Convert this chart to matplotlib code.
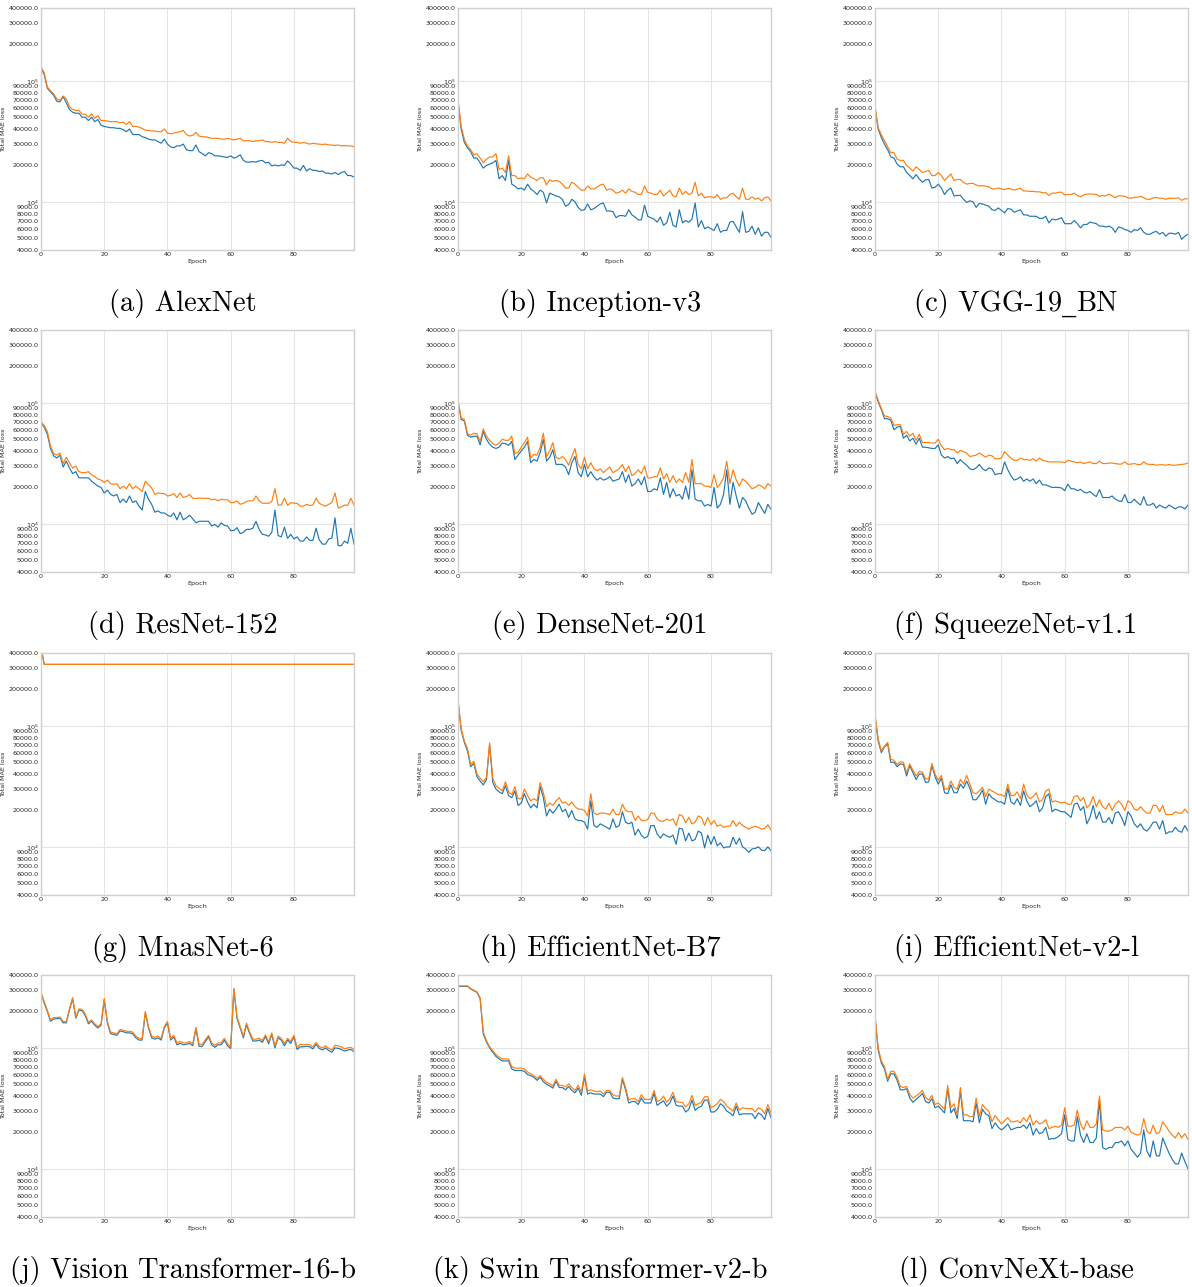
import numpy as np
import matplotlib
matplotlib.use("Agg")
import matplotlib.pyplot as plt
from matplotlib.ticker import LogLocator, FormatStrFormatter, LogFormatterSciNotation, FixedLocator

# ---------------- data (loss values in thousands) ----------------
epochs = list(range(100))

captions = ["(a) AlexNet", "(b) Inception-v3", "(c) VGG-19_BN",
            "(d) ResNet-152", "(e) DenseNet-201", "(f) SqueezeNet-v1.1",
            "(g) MnasNet-6", "(h) EfficientNet-B7", "(i) EfficientNet-v2-l",
            "(j) Vision Transformer-16-b", "(k) Swin Transformer-v2-b", "(l) ConvNeXt-base"]

alexnet_train = [128,113,87,81,76,68,67,74,66,58,
                 55,54,54,50,50,47,50,46,48,43,
                 42,41.5,41,41,40.5,40.5,39.5,38,40,36,
                 36,36,34.5,34,33,32.5,32.5,31.5,30.5,33,
                 30,28.5,28,29,29,30,27,26.5,26.5,29.5,
                 26,25,24,25.5,25,24,24,23.8,23.5,23.3,
                 24,23,23.5,24.5,22,21.3,21.3,21.5,21.3,21.8,
                 22,21,21.2,19.8,20.2,19.8,20.2,20,21.8,20.5,
                 19,19,18.2,20,18,18.8,18.2,18.2,17.8,18,
                 17.3,17.2,17,17.5,16.8,17.5,17.8,16.5,16.5,16]
alexnet_val = [130,117,89,83,78,71,69,75,71,61,
               58,57,57,53,53,50,53.5,49,51.5,47,
               47,46.5,46,46,46,45,45.5,43.5,46,42,
               42,41.5,40.5,39,39,38.5,38.5,38,38,40,
               37,36.5,37,37.5,38,39,36,35,35.5,37.5,
               35,34.5,34.5,34,33.5,33.5,33.5,33,33,33.5,
               33,32.5,33,33.5,32,32,32,31.5,32,32,
               32.5,31.5,31.5,31,31.5,31,31,30.5,33.5,31.5,
               31,31,30.5,31,30.5,30,30.5,30.2,30,29.8,
               30,29.5,29.5,29.2,29.5,29,29.2,29,29,28.5]

inception_train = [68,40,31,28,26,23,23,21,19,20,
                   20.5,21,22,15.5,16.5,15,22,14,13.5,12.8,
                   13,12.5,14,12.8,12.2,11.5,12.5,12,9.8,11.8,
                   11.5,11.2,11,10.5,9.2,9.5,10.5,10,9,8.5,
                   8.6,9.6,8.6,8.8,9.2,9.6,9.8,8.4,8.4,8.3,
                   7.4,7.7,7.7,7.6,8.6,7.8,7.5,7.1,7.1,9.4,
                   7.6,7.4,7.2,6.8,7.5,6.4,6.7,8.2,6.4,6.2,
                   8.6,6.7,7,6.8,7.2,9.8,6.2,7,6,6.2,
                   6,5.8,6.6,5.6,5.8,5.8,6.8,6.9,6.2,5.6,
                   8.3,5.6,5.7,6.3,5.4,6.1,5.2,5.6,5.6,5.1]
inception_val = [70,42,33,29,27,24.5,25,23,21,22.5,
                 23.5,23.5,25,18.5,19,17.5,24,16.5,16.5,15.5,
                 15.8,15.5,17,16,15.5,15,15.8,15.8,13.8,15.2,
                 14.8,15,14.8,14,13,13,14.5,14,13.2,12.5,
                 12.5,13.5,12.8,12.8,13.2,13.8,14,12.5,12.8,12.5,
                 11.8,12,12.5,11.8,12.8,12.2,12,11.5,11.5,13.5,
                 12,11.8,11.5,11.5,12.5,11.2,11.8,12.5,11.2,11,
                 13,11.5,12.2,11.5,11.8,14.5,11.2,11.8,10.8,11,
                 11,10.8,11.5,10.5,10.8,10.8,11.5,11.8,11,10.5,
                 13,10.5,10.5,11,10.5,10.8,10.2,10.8,11,10.2]

vgg_train = [60,40,34,30,27,23.5,23,20.5,19.5,19.5,
             17.5,16.5,15.5,16.8,15.5,14.5,15.2,15.3,13,13.2,
             14,13,11.5,12.5,13,11.2,11.3,11.3,10.5,9.9,
             10.2,10,9,9.7,9.6,9.4,9.2,8.6,8.5,8.9,
             8.5,8.1,8.8,8.7,8.2,8.4,8.6,7.8,7.8,7.6,
             7.6,7.6,7.3,7.3,7.6,6.7,7.2,7.1,7.2,7.4,
             6.6,6.6,6.6,7,6.6,6.1,6.5,6.5,6.8,6.7,
             6.6,6.3,6.3,6.2,6.3,6.1,5.6,6.2,6.1,5.9,
             5.8,5.6,5.9,5.8,6.1,5.6,5.4,5.4,5.6,5.7,
             5.4,5.6,5.2,5.5,5.5,5.4,5.6,4.9,5.2,5.4]
vgg_val = [62,41,36,32,28.5,25.5,25.5,22.5,22,22,
           20,19,18,19.5,18.5,17.5,17.8,18.2,16.5,16.5,
           17.5,16.5,15,16,17,15,15.3,15.3,14.5,14,
           14.2,14.2,13.8,13.5,13.6,13.5,13.3,12.8,12.8,13,
           12.8,12.6,12.9,12.8,12.5,12.7,13,12.3,12.3,12.2,
           12.2,12.1,12.1,11.9,11.9,11.3,11.8,11.8,12,12,
           11.4,11.5,11.5,11.8,11.3,11,11.4,11.6,11.6,11.6,
           11.5,11.1,11.3,11.2,11.6,11.2,10.8,11.2,11.2,11.1,
           10.8,10.7,10.9,10.9,11.1,10.8,10.5,10.5,10.8,10.9,
           10.7,10.7,10.5,10.7,10.7,10.7,10.8,10.3,10.6,10.6]

resnet_train = [68,63,55,42,36.5,35,37,29.5,33,29,
                26,27,24,24,24,24,22.5,21.5,20.5,20,
                18,19,17.5,17,17.5,15,16,15,17,15,
                15.5,14,13,18.5,16,14.5,12.5,12.8,12.3,12.3,
                11.8,11.5,12.3,10.8,12.5,10.8,11.2,11.8,11,10.2,
                10.5,10.5,10.5,10.5,9.6,9.9,9.4,10.2,9.7,9.6,
                8.8,8.8,9.3,8.3,8.5,9,9,9.2,10.5,9,
                8.2,8.1,7.9,8.5,13,8,7.8,9.4,7.6,8.2,
                7.5,7.8,7.2,7.2,7.8,7.3,7.3,9.2,7.4,6.8,
                6.8,7.5,7.6,11.2,6.6,6.6,7.2,6.9,9.2,6.8]
resnet_val = [70,65,58,44,38,37,38.5,31.5,35.5,32,
              29,30,27,26.5,26.5,27,25.5,24.5,23.5,23,
              22,23,21.5,21.2,21.5,19.5,20.5,19.5,21.5,19.5,
              20.5,19.5,18.5,22.5,21,19.8,17.5,18,17.8,17.8,
              17,17.2,17.8,16.5,18,16.5,16.8,17.5,16.3,16.2,
              16.3,16.3,16.2,16.3,15.8,16,15.5,16,15.8,15.8,
              15,15,15.5,14.5,14.8,15.3,15.5,15.5,17,15.5,
              14.8,14.8,14.8,15.3,19.5,14.3,14.3,16.3,14.2,15,
              14.8,14.8,14,14,14.5,14.2,14.3,16.3,14.8,14.3,
              14,14.5,15,18,13.5,13.8,14.3,14.2,16.3,14.3]

densenet_train = [102,73,71,54,52,53,53,45,58,50,
                  45.5,43,42,43,46.5,46,44.5,48,34,37,
                  40,43,48,32,34,33,39,50,33,35.5,
                  41,31,31,31,29.5,25.5,32,36,26.5,24.5,
                  31,24.5,27,24.5,23,24,23,23.5,24.5,22.5,
                  23,23.5,27,22,25.5,20.5,21.5,23.5,21,24.5,
                  18.5,18.5,19.5,19,24,17.5,22,16.5,19.5,17,
                  17.5,16,20.5,16,28,16,15.5,15.5,14,14.5,
                  14,20,13.5,14.5,17.5,28,14.5,22,17,13.5,
                  16.5,15.5,13.5,12,12.5,15,13.5,12.2,14.5,13.2]
densenet_val = [105,75,73,56,54,56,55.5,48,61,53,
                49,46,44.5,46.5,50,49,49,53,38,39,
                43,47,52,35,37.5,37,43,56,36,40,
                47,35.5,34.5,36,34,30.5,36,42,31,28.5,
                35.5,28.5,32,28.5,27.5,28.5,26.5,28,29.5,26.5,
                27.5,28.5,31,27,30,25,26,28,26,30,
                24,24,24.5,24.5,29,23.5,26,22,25,22,
                23.5,22,26.5,22,34,21.5,21.5,21.5,20.5,20.5,
                20,25.5,20,21.5,24,33,21.5,28,23,20.5,
                23.5,22.5,21,19.5,20,21,20.5,19.5,21.5,20.5]

squeezenet_train = [122,102,88,74,74,72,60,63,64,51,
                    54,48.5,51,45.5,51,43,43,42.5,42,42,
                    45,37,35,36,34.5,35,31.5,34,32,30.5,
                    28.5,28,29,31,28.5,27.5,29,28.5,25.5,26,
                    26,32.5,28,25,23,23.5,24.5,22.5,23.5,22.5,
                    23.5,21.5,23,21,21,20.5,20,20,20,19.8,
                    18.8,21.3,19.5,19.5,18.8,19.3,18.3,18,18.5,17.5,
                    16.8,19.2,16.5,16.5,16.5,17,16,15.5,15.3,17.5,
                    15,15,16,15,14.3,16.8,14.3,14.3,14.8,13.5,
                    14.3,13.8,13.5,14.3,13.8,13.3,13.8,13.8,13.3,14.3]
squeezenet_val = [125,105,90,78,77,75,65,66,66,55,
                  58,53,56,49,55,47,47,47,46.5,46.5,
                  50,44,41,42,41,41,38.5,40.5,39.5,38.5,
                  36,36.5,37,38.5,37,35.5,37,36.5,34.5,34.5,
                  35,39.5,37,35,33.5,33.5,35,34,34,33.5,
                  34.5,33,35,33.5,33,32.5,32.5,32.5,32.5,32.5,
                  32,33.5,33,32.5,32,32.5,31.5,32,32.5,31.5,
                  31.5,33,31.5,31.5,31.8,31.8,31.5,31.2,31.2,32.5,
                  31,31.2,31.5,31,30.8,32.5,31.2,31,31,30.5,
                  30.8,30.8,30.5,31,30.5,30.5,30.8,31,31.2,31.8]

mnasnet_train = [450,322,322,322,322,322,322,322,322,322,
                 322,322,322,322,322,322,322,322,322,322,
                 322,322,322,322,322,322,322,322,322,322,
                 322,322,322,322,322,322,322,322,322,322,
                 322,322,322,322,322,322,322,322,322,322,
                 322,322,322,322,322,322,322,322,322,322,
                 322,322,322,322,322,322,322,322,322,322,
                 322,322,322,322,322,322,322,322,322,322,
                 322,322,322,322,322,322,322,322,322,322,
                 322,322,322,322,322,322,322,322,322,322]
mnasnet_val = [450,322,322,322,322,322,322,322,322,322,
               322,322,322,322,322,322,322,322,322,322,
               322,322,322,322,322,322,322,322,322,322,
               322,322,322,322,322,322,322,322,322,322,
               322,322,322,322,322,322,322,322,322,322,
               322,322,322,322,322,322,322,322,322,322,
               322,322,322,322,322,322,322,322,322,322,
               322,322,322,322,322,322,322,322,322,322,
               322,322,322,322,322,322,322,322,322,322,
               322,322,322,322,322,322,322,322,322,322]

effb7_train = [160,92,73,62,46,49,38,35,32.5,36,
               70,34,30,28.5,27.5,32,26.5,25.5,29,22,
               23,27.5,23.5,21,22.5,21,31.5,25.5,18,20.5,
               19,20.5,22.5,19.5,20.5,17.5,20,17,16.5,16.5,
               16,14,24,15,14.5,15.5,15,14.5,14,17,
               14.5,15,19.5,16,15.5,16,12.5,14,12.5,11.8,
               12.2,15,15,12.8,11.8,12.8,12.3,12,12.5,10.5,
               14.3,14,11.2,13,11.2,11.5,13.5,13,9.8,12.5,
               10.5,12.2,10.2,10.8,9.8,10,10,12,10.5,11.8,
               10,9.6,9,9.6,9.7,10,9.4,9.3,10,9.3]
effb7_val = [165,95,75,65,48,51,40,37,34.5,37.5,
             72,37,32,30.5,29,34.5,28.5,27,31.5,25,
             25,30,26.5,24,25,24,34,28,21.5,23,
             22,24,25.5,23,23.5,22,23.5,21.5,20.5,20.5,
             20,18,27.5,19,18.5,19,19,18.8,18.5,20.5,
             18.5,18.5,22.5,20,19.5,19.5,16.5,18,16.5,16.5,
             16.8,19,19,17,16.3,16.3,17,16.5,17,15,
             18.5,18,15.8,17.5,15.5,16,18,17.5,15,17.5,
             15.3,16.5,14.8,15.2,14.5,14.8,14.8,16.5,14.8,16,
             15,14.5,14,14.5,14.8,14.5,14,14.2,15.2,13.8]

effv2_train = [120,75,60,67,71,50,50,46,48.5,48,
               38.5,47,41,36,40,40,34,34.5,47,38,
               33,37,28,27.5,32.5,28,28,33,30.5,35,
               30.5,24.5,24.5,26.5,29.5,22.5,27.5,25.5,24.5,23.5,
               23.5,22.5,30.5,23.5,22.5,25,22,29,24,21.5,
               22.5,24,19.5,21,26,27.5,19.5,20.5,20,19.5,
               19.5,18.5,17.5,22.5,23,20,21.5,15.5,17.5,22,
               17,19.5,16,16,17.5,15.5,19,19.5,17.5,15,
               19.5,18,15.5,14.5,15.5,14,13.5,14.5,16,16,
               14,16.5,12.8,13.3,13.3,14.5,13.5,13.2,15,13.5]
effv2_val = [125,78,62,68,73,53,52,48,50.5,50,
             41,48.5,43,38.5,42,41.5,36.5,36.5,49,40,
             35.5,39,30,30,35,31,30,36,33,39,
             33,28,27.5,29,31,26,30,29,28,27,
             27,26,33,26.5,26.5,28.5,25,33,27,25,
             26,28,23.5,24.5,29,30,23.5,24,23.5,23,
             23.5,22.5,22.5,26,26.5,24,25.5,21,22.5,26,
             21.5,24.5,21.5,20.5,23,20,22.5,24,22.5,20,
             24,23,20.5,20,21.5,20,19,19,22,22,
             19.5,22,18.5,18.5,18.5,19.5,19,19,20.5,19]

vit_train = [285,235,200,166,173,174,176,161,161,205,
             255,176,205,203,185,158,166,154,146,154,
             250,160,131,129,127,138,136,133,133,131,
             121,116,116,195,146,121,118,121,116,146,
             161,116,123,106,109,106,107,109,104,144,
             103,103,113,123,106,101,106,106,116,104,
             99,305,175,146,121,155,131,114,114,116,
             111,124,108,129,100,121,116,104,116,109,
             123,97,102,102,103,102,98,107,99,96,
             100,95,92,100,99,97,94,96,97,93]
vit_val = [290,240,205,170,178,178,180,165,165,210,
           260,180,210,208,190,163,170,158,150,158,
           255,165,135,133,130,142,140,137,137,135,
           125,120,120,200,150,125,122,125,120,150,
           165,120,127,110,113,110,110,113,108,148,
           107,107,117,127,110,105,110,110,120,108,
           102,310,180,150,125,160,135,118,118,120,
           115,128,112,133,104,125,120,108,120,113,
           127,101,107,106,107,106,102,111,103,100,
           104,99,96,105,104,102,98,100,101,97]

swin_train = [322,322,322,322,307,297,287,255,130,112,
              100,92,85,81,78,78,78,67,65,65,
              65,64,60,59,57,54,57,52.5,50,48.5,
              46.5,53,47,47,45,48,44.5,42.5,46.5,40.5,
              58,41.5,42.5,41.5,41.5,41.5,39.5,43,43,38.5,
              38,38,55,45,35,36,36,34,38.5,35,
              35,35,42,33.5,35,36.5,33,35,40,33.5,
              33,33,29.5,31,37,30.5,32,33,37,37,
              29.5,29.5,31,34.5,33,30,29,27.5,33,28,
              28.5,28.5,28.5,28.5,26,29,28,25.5,31.5,26.5]
swin_val = [325,325,325,325,310,300,290,260,135,115,
            102,95,88,84,81,81,81,70,68,68,
            68,67,63,61,59,56,59,55,52,50.5,
            48.5,55,49,49,47.5,50.5,47,44.5,49,43,
            61,44,45,44,43.5,44,41.5,44.5,44.5,41,
            40,40,57,47,37,38,38,36,41,37.5,
            37.5,37.5,44.5,36,37,40,35.5,38,43,36,
            35.5,35.5,32.5,34.5,40.5,33.5,34.5,35.5,39.5,39.5,
            32,33,34.5,37.5,36,33,31.5,30,35,30.5,
            32,31.5,31.5,31.5,29.5,32,31,28.5,34,29]

convnext_train = [180,96,75,67,53,61,61,54,45,45,
                  46,38.5,35.5,37.5,39.5,42,36,35,38,32,
                  33,31,29,46,29,31.5,26,44,25,25,
                  25,24.5,35,24,31,28.5,27.5,21.5,24,22,
                  21,22,23.5,21,21.5,22,22,23,21.5,24,
                  19,21.5,19.5,20,22,17.5,17.8,17.8,18.5,19.5,
                  28,17.5,17,17,27,19,16.5,19.5,16.5,16.5,
                  18,37,15,14.5,15,15,16.5,16.5,17,15.5,
                  17,14.5,13.5,12.5,13.5,21,14,12.5,17,12.8,
                  12.8,18,15.5,13.5,12,11,11,13.5,11.5,10]
convnext_val = [185,100,78,70,55,64,64,57,48,47,
                48,41,38.5,40,42,44.5,39,37,40.5,34,
                35,33,31,49,32,34.5,28,47,28,28,
                27,27,38.5,27,34,31.5,30,24.5,27.5,25.5,
                23.5,25,26.5,24.5,24.5,25,24,26.5,24.5,28,
                23,25,23.5,24,25.5,21.5,22,22.5,22,23,
                32,22.5,22.5,23,30.5,23.5,21,25,22,22,
                23.5,40,21,20.5,20.5,21,22,22,22,21,
                22.5,20,19.5,19,19.5,26,20.5,19.5,23,19.5,
                20,24.5,22.5,20.5,19,18,20,18,19.5,17.5]

train_series = [alexnet_train, inception_train, vgg_train, resnet_train, densenet_train,
                squeezenet_train, mnasnet_train, effb7_train, effv2_train, vit_train,
                swin_train, convnext_train]
val_series = [alexnet_val, inception_val, vgg_val, resnet_val, densenet_val,
              squeezenet_val, mnasnet_val, effb7_val, effv2_val, vit_val,
              swin_val, convnext_val]

xtick_vals = [0, 20, 40, 60, 80]

# ---------------- layout ----------------
W, H = 1192, 1287
fig = plt.figure(figsize=(W / 100, H / 100), dpi=100)
renderer = fig.canvas.get_renderer()

col_left = [41, 458, 875]
ax_w = 313
row_top = [8, 330, 653, 975]
ax_h = 242
cap_x = [183, 600, 1016]
cap_base = [311, 633, 956, 1278]
cap_size = 20.5
cap_family = ['cmr10', 'DejaVu Serif']


def caption(cx, cy, s):
    """Draw a caption centred at (cx, cy) in pixels; underscores drawn in DejaVu Serif."""
    if '_' not in s:
        fig.text(cx / W, 1 - cy / H, s, fontsize=cap_size, family=cap_family,
                 ha='center', va='baseline')
        return
    parts = s.split('_')
    pieces = []
    for k, p in enumerate(parts):
        pieces.append((p, cap_family))
        if k < len(parts) - 1:
            pieces.append(('_', ['DejaVu Serif']))
    # measure
    widths = []
    for txt, fam in pieces:
        t = fig.text(0, 0, txt, fontsize=cap_size, family=fam)
        bb = t.get_window_extent(renderer=renderer)
        widths.append(bb.width)
        t.remove()
    total = sum(widths)
    x = cx - total / 2
    for (txt, fam), w in zip(pieces, widths):
        fig.text(x / W, 1 - cy / H, txt, fontsize=cap_size, family=fam,
                 ha='left', va='baseline')
        x += w


tick_col = '#262626'
for i in range(12):
    r, c = divmod(i, 3)
    l = col_left[c]
    t = row_top[r]
    ax = fig.add_axes([l / W, 1 - (t + ax_h) / H, ax_w / W, ax_h / H])
    tr = np.array(train_series[i]) * 1000.0
    va = np.array(val_series[i]) * 1000.0
    ax.plot(epochs, tr, color='#1f77b4', lw=0.85)
    ax.plot(epochs, va, color='#ff7f0e', lw=0.85)
    ax.set_yscale('log')
    ax.set_ylim(4000, 400000)
    ax.set_xlim(0, 99)
    ax.xaxis.set_major_locator(FixedLocator(xtick_vals))
    ax.yaxis.set_major_locator(LogLocator(base=10, numticks=10))
    ax.yaxis.set_minor_locator(LogLocator(base=10, subs=np.arange(2, 10), numticks=20))
    ax.yaxis.set_minor_formatter(FormatStrFormatter('%.1f'))
    ax.yaxis.set_major_formatter(LogFormatterSciNotation())
    ax.tick_params(axis='both', which='both', length=0, labelsize=4.6,
                   labelcolor=tick_col, pad=1.5)
    ax.grid(True, which='major', color='#e5e5e5', lw=0.8)
    ax.set_axisbelow(True)
    for s in ax.spines.values():
        s.set_color('#d0d0d0')
        s.set_linewidth(1.0)
    ax.set_xlabel('Epoch', fontsize=4.6, color=tick_col, labelpad=1.5)
    ax.set_ylabel('Total MAE loss', fontsize=4.6, color=tick_col, labelpad=2)
    caption(cap_x[c], cap_base[r], captions[i])

fig.savefig('out.png', dpi=100)
